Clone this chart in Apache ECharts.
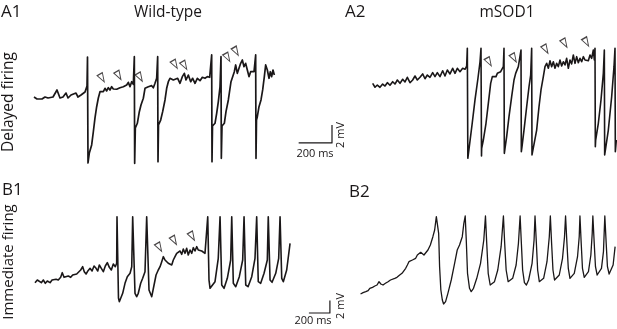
<!DOCTYPE html>
<html>
<head>
<meta charset="utf-8">
<script src="https://cdn.jsdelivr.net/npm/echarts@6/dist/echarts.min.js"></script>
<style>
  html, body { margin: 0; padding: 0; background: #fff; }
  #main { width: 617px; height: 329px; }
</style>
</head>
<body>
<div id="main"></div>
<script>
// traces: [time ms, membrane potential mV]
const a1Trace = [
  [0,0],[18,-0.22],[30,0],[48,-0.22],[66,0],[84,-0.11],[96,0.11],[114,0],[126,0.22],[138,0.78],[144,1.0],
  [156,-0.11],[174,0],[192,0.44],[204,-0.11],[222,0.22],[234,0],[252,0.44],[264,0],[282,0.22],[294,0],
  [306,0.56],[318,1.22],[321,4.44],[324,-7.33],[332,-6.22],[346,-5.33],[356,-3.86],[366,-2.33],[376,-1.08],
  [386,-0.11],[396,0.59],[406,0.78],[416,0.59],[426,0.97],[436,0.67],[446,1.03],[456,0.78],[466,1.14],
  [476,0.89],[486,1.03],[496,0.86],[506,0.97],[516,1.03],[526,0.89],[536,1.14],[546,0.97],[556,1.33],
  [566,1.63],[576,1.14],[586,1.7],[596,1.41],[602,4.48],[604,-7.37],[608,-3.44],[612,-3.3],[620,-2.92],
  [632,-1.63],[642,-0.89],[656,-0.14],[666,0.97],[676,0.78],[686,1.14],[696,0.97],[706,1.26],[716,1.03],
  [726,1.52],[736,2.08],[742,4.48],[744,-7.19],[747,-3.11],[752,-2.92],[760,-2.56],[772,-1.63],[786,-0.33],
  [796,0.97],[806,1.7],[816,2.08],[826,2.26],[836,1.89],[846,1.89],[862,2.08],[876,1.52],[890,2.26],
  [902,2.63],[912,1.89],[926,2.44],[940,1.7],[952,2.08],[966,1.52],[980,2.08],[996,1.81],[1010,2.19],
  [1026,2.08],[1040,2.26],[1054,2.19],[1062,2.33],[1066,4.67],[1068,-7.19],[1071,-3.22],[1076,-3.11],
  [1086,-2.92],[1096,-1.81],[1106,-0.52],[1116,1.14],[1122,4.48],[1124,-6.81],[1128,-3.22],[1132,-3.11],
  [1142,-2.92],[1152,-1.63],[1166,-0.33],[1182,1.7],[1192,2.26],[1202,2.81],[1210,3.56],[1220,2.63],
  [1230,3.19],[1240,3.74],[1250,4.11],[1260,3.37],[1270,3.74],[1280,3.0],[1290,2.26],[1300,2.81],
  [1310,2.63],[1320,2.81],[1330,4.67],[1332,-6.81],[1335,-2.56],[1340,-2.19],[1350,-1.08],[1362,-0.33],
  [1372,0.78],[1382,2.26],[1390,3.56],[1400,3.0],[1410,2.08],[1418,2.81],[1426,2.26],[1434,3.0],[1442,2.44]
];
const a2Trace = [
  [4,1.52],[18,1.08],[32,1.33],[48,1.08],[64,1.44],[78,1.22],[92,1.59],[108,1.3],[124,1.7],[138,1.44],
  [152,1.89],[168,1.52],[184,1.97],[198,1.67],[212,2.19],[228,1.59],[244,1.89],[258,2.33],[272,1.89],
  [288,2.19],[304,2.56],[318,2.03],[332,2.44],[348,2.19],[364,2.7],[378,2.26],[392,2.7],[408,2.26],
  [424,2.92],[438,2.33],[452,3.0],[468,2.56],[484,3.19],[498,2.63],[512,3.19],[528,2.81],[544,3.19],
  [558,3.08],[568,3.44],[572,5.41],[575,-6.81],[582,-6.63],[600,-3.11],[618,-0.33],[636,2.11],[648,3.89],
  [654,5.41],[657,-6.56],[658,-5.7],[668,-4.78],[684,-2.92],[698,-0.7],[712,1.52],[722,2.26],[732,2.44],
  [744,2.26],[752,2.63],[762,2.44],[772,2.81],[782,3.0],[788,3.37],[792,5.41],[794,-6.26],[798,-5.7],
  [808,-4.41],[822,-2.19],[838,0.03],[852,1.89],[862,2.63],[872,2.81],[878,3.37],[884,3.56],[894,5.22],
  [896,-6.08],[900,-5.52],[912,-3.67],[928,-1.08],[942,1.14],[952,2.44],[958,5.41],[960,-6.44],[964,-6.22],
  [988,-3.67],[1002,-1.08],[1014,0.78],[1028,2.26],[1038,3.37],[1048,3.74],[1058,3.19],[1068,4.03],
  [1078,3.37],[1088,3.92],[1098,3.19],[1108,3.74],[1118,3.37],[1128,4.11],[1138,3.44],[1148,3.92],
  [1158,3.56],[1168,4.3],[1178,3.19],[1188,4.11],[1198,3.67],[1208,4.67],[1218,3.74],[1228,4.48],
  [1238,3.81],[1248,4.3],[1258,3.92],[1268,4.48],[1278,4.11],[1288,4.19],[1298,4.03],[1308,4.67],
  [1318,4.3],[1328,5.22],[1334,4.11],[1338,5.41],[1340,-5.52],[1342,-4.78],[1358,-2.92],[1374,-0.33],
  [1388,2.63],[1394,5.22],[1396,-6.44],[1402,-6.26],[1418,-3.67],[1438,0.03],[1452,3.37],[1458,5.41],
  [1460,-6.08],[1466,-4.78]
];
const b1Trace = [
  [0,0.05],[22,0.48],[41,0.75],[60,0.05],[79,0.48],[98,-0.05],[117,0.32],[143,0.05],[162,0.48],[181,0.21],
  [200,0.59],[221,0.48],[244,0.91],[259,1.65],[276,0.91],[295,0.75],[316,1.12],[339,0.91],[358,1.28],
  [377,1.12],[396,1.44],[415,1.23],[434,2.08],[453,2.61],[468,1.81],[485,1.44],[504,1.97],[523,2.35],
  [542,1.92],[561,2.72],[580,2.35],[596,1.92],[611,2.88],[630,2.35],[649,1.81],[668,2.72],[687,3.25],
  [706,2.51],[725,2.08],[744,3.04],[763,2.61],[776,3.15],[779,10.61],[793,-2.4],[801,-2.99],[833,-1.65],
  [855,-0.05],[877,1.01],[903,1.55],[919,2.61],[928,10.61],[950,-1.65],[966,-2.19],[981,-1.65],[1004,-0.05],
  [1023,0.75],[1045,1.81],[1061,10.61],[1083,-1.12],[1109,-2.19],[1131,-0.32],[1150,1.28],[1171,2.08],
  [1188,2.61],[1204,3.41],[1219,4.21],[1235,3.68],[1251,3.41],[1266,3.15],[1283,3.41],[1299,2.88],
  [1314,3.68],[1330,4.21],[1346,4.75],[1361,4.48],[1378,5.12],[1394,4.59],[1409,5.44],[1425,4.75],
  [1441,5.55],[1456,4.48],[1473,5.28],[1489,4.75],[1504,5.65],[1520,5.12],[1536,5.81],[1551,5.28],
  [1568,5.01],[1584,5.12],[1599,4.91],[1615,4.75],[1631,5.01],[1641,10.61],[1653,0.48],[1663,-0.85],
  [1679,-1.12],[1710,0.21],[1741,3.95],[1758,10.61],[1774,-0.32],[1796,-0.85],[1827,0.75],[1859,3.68],
  [1869,10.61],[1884,-0.05],[1907,-0.59],[1941,1.01],[1973,3.68],[1986,10.61],[2002,-0.32],[2024,-0.59],
  [2059,1.01],[2090,3.95],[2106,10.61],[2121,0.21],[2144,-0.05],[2176,1.55],[2207,3.68],[2216,10.61],
  [2233,0.48],[2252,0.11],[2287,1.55],[2315,3.95],[2328,10.61],[2344,0.75],[2359,0.21],[2391,2.08],[2423,6.35]
];
const b2Trace = [
  [7,-1.76],[31,-1.55],[57,-1.39],[79,-1.23],[95,-0.85],[121,-0.69],[143,-0.48],[164,-0.32],[183,0.21],
  [200,-0.16],[221,-0.32],[244,-0.05],[269,0.21],[292,0.48],[311,0.37],[333,0.75],[354,0.91],[380,1.28],
  [402,1.55],[421,1.81],[437,2.35],[453,2.88],[468,3.41],[485,3.25],[501,3.68],[516,3.41],[532,3.95],
  [548,4.48],[563,4.75],[580,4.91],[596,4.64],[611,4.48],[627,4.75],[649,5.28],[672,6.08],[696,7.41],
  [713,8.48],[729,10.61],[738,10.88],[751,7.95],[760,2.61],[772,-1.12],[786,-2.72],[798,-3.36],[817,-2.99],
  [839,-1.65],[871,0.48],[903,3.15],[928,5.28],[950,6.08],[976,7.41],[991,9.55],[1004,10.72],[1014,6.88],
  [1026,1.55],[1045,-0.85],[1061,-1.39],[1083,-0.85],[1114,0.75],[1150,3.15],[1181,6.88],[1197,10.72],
  [1209,6.35],[1223,1.55],[1242,-0.32],[1261,-0.48],[1283,0.21],[1314,2.08],[1346,5.81],[1368,10.72],
  [1380,6.35],[1394,2.08],[1413,0.21],[1432,-0.05],[1456,0.75],[1489,2.88],[1511,6.35],[1527,10.72],
  [1539,6.35],[1551,2.08],[1568,0.05],[1587,-0.32],[1608,0.48],[1641,3.15],[1660,6.88],[1669,10.72],
  [1682,6.35],[1694,2.08],[1710,0.21],[1729,-0.05],[1751,0.75],[1783,3.41],[1805,7.41],[1815,10.72],
  [1827,6.35],[1840,2.08],[1855,0.48],[1874,0.32],[1900,1.28],[1931,3.95],[1950,7.41],[1960,10.72],
  [1973,6.35],[1986,2.35],[2002,0.75],[2021,0.59],[2043,1.55],[2074,4.21],[2090,7.41],[2097,10.72],
  [2109,6.35],[2121,2.35],[2138,0.91],[2154,0.75],[2178,1.81],[2201,4.48],[2214,7.95],[2220,10.72],
  [2233,6.35],[2245,2.61],[2261,1.28],[2280,1.12],[2302,2.35],[2321,5.01],[2334,10.72],[2347,6.35],
  [2359,2.61],[2375,1.44],[2394,1.44],[2413,2.88],[2432,5.81]
];

// open arrowheads marking events
const a1Arrows = [[408,2.11],[508,2.37],[636,2.19],[846,3.61],[903,3.5],[1161,4.39],[1212,5.06]];
const a2Arrows = [[702,3.89],[852,4.33],[1042,5.3],[1156,5.97],[1286,6.09]];
const b1Arrows = [[1181,5.71],[1322,6.78],[1493,7.47]];

// scale bars: [start ms, start mV], lengths
const scaleA = [-440, -5.1];
const scaleB = [-485, -4.8];
const scaleLen = { ms: 200, mV: 2 };

const panelLabels = ['A1', 'A2', 'B1', 'B2'];
const panelTitles = ['Wild-type', 'mSOD1'];
const rowLabels = ['Delayed firing', 'Immediate firing'];

// layout: px per unit and pixel position of v=0 for each row
const rowA = { msPx: 1 / 6, mvPx: 9, y0: 97, vMin: -8, vMax: 7 };
const rowB = { msPx: 1 / 9.5, mvPx: 6.25, y0: 283, vMin: -4.5, vMax: 12.5 };

function gridFor(row, x0, tMin, tMax) {
  return {
    left: x0 + tMin * row.msPx,
    top: row.y0 - row.vMax * row.mvPx,
    width: (tMax - tMin) * row.msPx,
    height: (row.vMax - row.vMin) * row.mvPx
  };
}
const grids = [
  gridFor(rowA, 34, 0, 1500),
  gridFor(rowA, 372, -480, 1470),
  gridFor(rowB, 35, 0, 2500),
  gridFor(rowB, 360, -620, 2450)
];
const ranges = [[0, 1500, rowA], [-480, 1470, rowA], [0, 2500, rowB], [-620, 2450, rowB]];

const ink = '#1a1718';
const font = 'Open Sans';

const dom = document.getElementById('main');
const chart = echarts.init(dom, null, { renderer: 'canvas' });

function trace(data, idx, w) {
  return {
    type: 'line', xAxisIndex: idx, yAxisIndex: idx, data: data,
    showSymbol: false, smooth: false, clip: false, silent: true,
    lineStyle: { color: ink, width: w, join: 'round' }
  };
}
function arrows(data, idx) {
  return {
    type: 'scatter', xAxisIndex: idx, yAxisIndex: idx, data: data,
    symbol: 'triangle', symbolSize: [6, 9], symbolRotate: -150, silent: true,
    itemStyle: { color: '#fff', borderColor: ink, borderWidth: 1.1 }
  };
}
function scaleBar(s, idx) {
  return trace([s, [s[0] + scaleLen.ms, s[1]], [s[0] + scaleLen.ms, s[1] + scaleLen.mV]], idx, 1.2);
}

function text(str, x, y, size, rot, align) {
  return {
    type: 'text', x: x, y: y, rotation: rot || 0,
    style: {
      text: str, fill: ink, font: size + 'px "' + font + '"',
      textAlign: align || 'left', textVerticalAlign: 'middle'
    }
  };
}

const option = {
  backgroundColor: '#fff',
  animation: false,
  grid: grids,
  xAxis: ranges.map((r, i) => ({ type: 'value', gridIndex: i, min: r[0], max: r[1], show: false })),
  yAxis: ranges.map((r, i) => ({ type: 'value', gridIndex: i, min: r[2].vMin, max: r[2].vMax, show: false })),
  series: [
    trace(a1Trace, 0, 1.7),
    trace(a2Trace, 1, 1.6),
    trace(b1Trace, 2, 1.6),
    trace(b2Trace, 3, 1.3),
    arrows(a1Arrows, 0),
    arrows(a2Arrows, 1),
    arrows(b1Arrows, 2),
    scaleBar(scaleA, 1),
    scaleBar(scaleB, 3)
  ],
  graphic: [
    text(panelLabels[0], 1, 12, 17),
    text(panelLabels[1], 345, 12, 17),
    text(panelLabels[2], 2, 190, 17),
    text(panelLabels[3], 349, 192, 17),
    text(panelTitles[0], 168, 13, 15.5, 0, 'center'),
    text(panelTitles[1], 507, 13, 15.5, 0, 'center'),
    text(rowLabels[0], 9, 102, 15.5, Math.PI / 2, 'center'),
    text(rowLabels[1], 9, 262, 15, Math.PI / 2, 'center'),
    text(scaleLen.ms + ' ms', 315, 154, 11, 0, 'center'),
    text(scaleLen.mV + ' mV', 341, 135, 11, Math.PI / 2, 'center'),
    text(scaleLen.ms + ' ms', 313, 321, 11, 0, 'center'),
    text(scaleLen.mV + ' mV', 341, 306, 11, Math.PI / 2, 'center')
  ]
};

chart.setOption(option, true);
</script>
</body>
</html>
